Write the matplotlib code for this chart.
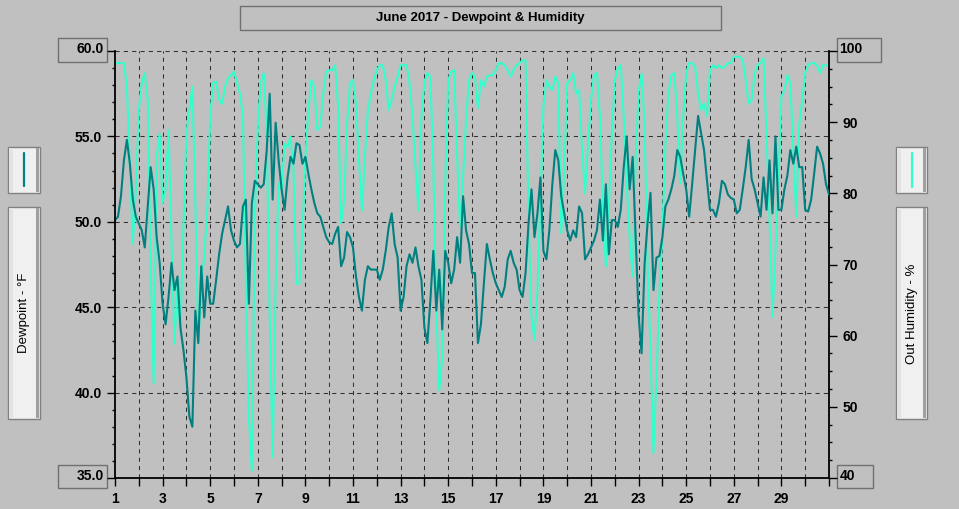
import numpy as np
import matplotlib
matplotlib.use('Agg')
import matplotlib.pyplot as plt
from matplotlib.patches import Rectangle
from matplotlib.lines import Line2D
from matplotlib.ticker import MultipleLocator

# readings every 3 hours, June 1 00:00 .. July 1 00:00
dewpoint = [
    50.1, 50.3, 51.5, 53.6, 54.8, 53.4, 51.3, 50.3,
    49.9, 49.5, 48.5, 50.9, 53.2, 51.9, 49.1, 47.6,
    45.2, 44.0, 45.6, 47.6, 46.0, 46.8, 43.8, 42.5,
    40.9, 38.6, 38.0, 44.8, 42.9, 47.4, 44.4, 46.8,
    45.2, 45.2, 46.6, 48.1, 49.3, 50.1, 50.9, 49.5,
    48.9, 48.5, 48.7, 50.9, 51.3, 45.2, 51.1, 52.4,
    52.2, 52.0, 52.2, 54.2, 57.5, 51.3, 55.8, 53.6,
    51.9, 50.7, 52.6, 53.8, 53.4, 54.6, 54.5, 53.4,
    53.8, 52.8, 51.9, 51.1, 50.5, 50.3, 49.7, 49.1,
    48.8, 48.7, 49.3, 49.7, 47.4, 47.9, 49.4, 49.1,
    48.5, 46.8, 45.6, 44.8, 46.6, 47.4, 47.2, 47.2,
    47.2, 46.6, 47.2, 48.3, 49.7, 50.5, 48.7, 47.9,
    44.8, 45.6, 47.4, 48.1, 47.6, 48.5, 47.4, 46.6,
    43.8, 42.9, 45.4, 48.3, 44.8, 47.2, 43.7, 48.3,
    47.6, 46.4, 47.2, 49.1, 47.6, 51.5, 49.5, 48.7,
    47.0, 47.0, 42.9, 44.0, 46.4, 48.7, 47.8, 47.0,
    46.4, 46.0, 45.6, 46.2, 47.8, 48.3, 47.6, 47.2,
    46.0, 45.6, 47.0, 49.9, 51.9, 49.1, 50.5, 52.6,
    48.3, 47.8, 49.5, 52.2, 54.2, 53.6, 51.5, 50.5,
    49.5, 48.9, 49.5, 49.1, 50.9, 50.5, 47.8, 48.1,
    48.5, 48.9, 49.5, 51.3, 48.9, 52.2, 48.1, 50.1,
    50.1, 49.7, 50.7, 53.2, 55.0, 51.9, 53.8, 49.1,
    44.5, 42.3, 47.5, 49.9, 51.7, 46.0, 47.9, 48.0,
    49.1, 50.9, 51.3, 51.9, 52.7, 54.2, 53.8, 52.8,
    51.9, 50.3, 52.2, 54.2, 56.2, 55.2, 54.2, 52.4,
    50.7, 50.7, 50.3, 51.1, 52.4, 52.2, 51.6, 51.4,
    51.3, 50.5, 50.7, 51.9, 53.2, 54.8, 52.5, 51.9,
    51.1, 50.3, 52.6, 50.7, 53.6, 50.5, 55.0, 50.7,
    50.7, 51.9, 52.7, 54.2, 53.4, 54.4, 53.2, 53.2,
    50.7, 50.6, 51.3, 52.8, 54.4, 54.0, 53.4, 52.2, 51.6,
]

humidity = [
    98.3, 98.3, 98.3, 98.3, 95.0, 83.7, 72.9, 80.5,
    91.7, 95.5, 96.9, 93.1, 69.7, 53.3, 85.1, 88.4,
    78.6, 80.5, 88.9, 72.9, 58.9, 67.3, 60.3, 75.3,
    88.4, 91.7, 95.0, 79.0, 58.9, 67.3, 71.1, 77.6,
    90.8, 95.5, 95.7, 93.1, 92.6, 95.0, 96.2, 96.6,
    97.1, 95.5, 94.0, 90.8, 67.3, 48.6, 41.0, 76.7,
    89.4, 95.5, 96.9, 88.4, 62.6, 42.9, 67.3, 81.4,
    80.5, 87.0, 86.5, 88.0, 83.3, 67.3, 67.3, 74.4,
    85.1, 91.7, 95.9, 95.0, 88.9, 89.4, 94.0, 97.1,
    97.3, 97.3, 98.0, 92.2, 75.8, 79.0, 89.8, 95.5,
    95.9, 92.6, 84.7, 77.6, 85.1, 91.7, 94.0, 95.9,
    97.3, 98.0, 98.0, 95.9, 91.7, 93.1, 95.0, 96.4,
    98.0, 98.0, 98.0, 95.5, 90.8, 83.7, 77.6, 90.8,
    95.5, 96.9, 96.4, 83.7, 63.6, 52.3, 57.0, 81.4,
    95.9, 97.1, 97.3, 85.1, 75.3, 82.3, 90.3, 95.9,
    96.9, 96.4, 92.0, 95.9, 95.0, 96.4, 96.6, 96.6,
    97.3, 98.3, 98.3, 98.0, 97.3, 96.4, 97.3, 98.0,
    98.3, 98.7, 98.7, 76.7, 62.6, 59.4, 66.4, 79.0,
    92.2, 95.9, 95.0, 94.5, 96.4, 95.5, 74.4, 83.3,
    95.5, 95.9, 96.9, 94.0, 94.5, 86.1, 80.0, 87.0,
    93.1, 96.6, 96.9, 90.8, 78.1, 69.7, 78.1, 88.4,
    95.9, 97.6, 98.0, 90.8, 81.4, 73.9, 68.3, 84.7,
    94.3, 96.8, 90.0, 70.0, 58.0, 43.5, 54.0, 66.0,
    74.4, 86.5, 94.0, 96.6, 96.9, 90.8, 81.4, 90.8,
    96.9, 98.3, 98.3, 97.8, 94.0, 91.7, 92.6, 90.8,
    97.3, 98.0, 97.6, 98.0, 97.6, 97.8, 98.3, 98.3,
    99.2, 99.2, 99.2, 98.7, 95.9, 92.6, 93.1, 96.9,
    98.0, 98.3, 99.0, 88.4, 76.7, 62.6, 72.0, 81.4,
    93.6, 94.5, 96.6, 95.5, 86.1, 76.7, 89.8, 93.1,
    96.9, 98.0, 98.3, 98.3, 98.0, 96.9, 98.0, 98.0, 98.0,
]

per_day = 8
days = 1 + np.arange(len(dewpoint)) / per_day

title = 'June 2017 - Dewpoint & Humidity'
left_label = 'Dewpoint - °F'
right_label = 'Out Humidity - %'
dp_ticks = [35, 40, 45, 50, 55, 60]
hum_ticks = [40, 50, 60, 70, 80, 90, 100]
day_ticks = list(range(1, 32))
day_labels = [str(d) if d % 2 == 1 and d < 31 else '' for d in day_ticks]

W, H = 959, 509
BG = '#c0c0c0'
TEAL = '#008080'
AQUA = '#33ffcc'

plt.rcParams['font.family'] = ['Liberation Sans', 'DejaVu Sans']
plt.rcParams['font.weight'] = 'bold'
plt.rcParams['font.size'] = 10

fig = plt.figure(figsize=(W / 100, H / 100), dpi=100, facecolor=BG)


def fbox(x0, y0, x1, y1):
    # pixel box (top-left origin) -> figure fraction rect
    return (x0 / W, 1 - y1 / H, (x1 - x0) / W, (y1 - y0) / H)


def frame(x0, y0, x1, y1, face='none', edge='#707070'):
    l, b, w, h = fbox(x0, y0, x1, y1)
    fig.add_artist(Rectangle((l, b), w, h, transform=fig.transFigure,
                             facecolor=face, edgecolor=edge, lw=1))


def panel(x0, y0, x1, y1):
    frame(x0, y0, x1, y1, face='#f0f0f0', edge='#808080')
    frame(x0 + 1, y0 + 1, x0 + 5, y1 - 1, face='#e3e3e3', edge='none')
    frame(x1 - 4, y0 + 1, x1 - 1, y1 - 1, face='#a0a0a0', edge='none')


ax = fig.add_axes(fbox(115, 51, 829, 478))
ax2 = ax.twinx()
ax.set_zorder(2)
ax2.set_zorder(1)
ax.patch.set_visible(False)
ax2.patch.set_visible(False)

# grid underneath both series
grid_kw = dict(colors='#303030', lw=0.75, linestyles=(0, (4, 4)))
ax2.vlines(day_ticks[1:-1], 40, 100, **grid_kw)
ax2.hlines(dp_ticks[1:], 1, 31, transform=ax.transData, **grid_kw)

ax2.plot(days, humidity, color=AQUA, lw=1.5)
ax.plot(days, dewpoint, color=TEAL, lw=1.5)

ax.set_xlim(1, 31)
ax.set_ylim(35, 60)
ax2.set_ylim(40, 100)

for a in (ax, ax2):
    for s in a.spines.values():
        s.set_linewidth(1.3)
        s.set_color('black')
    a.spines['top'].set_visible(False)
ax.spines['right'].set_visible(False)
ax2.spines['left'].set_visible(False)
ax2.spines['bottom'].set_visible(False)

ax.set_xticks(day_ticks)
ax.set_xticklabels(day_labels)
ax.tick_params(axis='x', direction='out', length=6, width=1, pad=4)

ax.set_yticks(dp_ticks)
ax.set_yticklabels([''] + [f'{v:.1f}' for v in dp_ticks[1:-1]] + [''])
ax.yaxis.set_minor_locator(MultipleLocator(1))
ax.tick_params(axis='y', which='major', direction='out', length=6, width=1, pad=3.5)
ax.tick_params(axis='y', which='minor', direction='out', length=2.3, width=1)

ax2.set_yticks(hum_ticks)
ax2.set_yticklabels([''] + [str(v) for v in hum_ticks[1:-1]] + [''])
ax2.yaxis.set_minor_locator(MultipleLocator(2.5))
ax2.tick_params(axis='y', which='major', direction='out', length=6, width=1, pad=3.5)
ax2.tick_params(axis='y', which='minor', direction='out', length=2.3, width=1)

# boxed end labels
frame(58, 38, 107, 62)
fig.text(104 / W, 1 - 49 / H, f'{dp_ticks[-1]:.1f}', ha='right', va='center')
frame(58, 465, 107, 488)
fig.text(104 / W, 1 - 476 / H, f'{dp_ticks[0]:.1f}', ha='right', va='center')
frame(837, 38, 881, 62)
fig.text(839 / W, 1 - 49 / H, str(hum_ticks[-1]), ha='left', va='center')
frame(837, 465, 873, 488)
fig.text(840 / W, 1 - 476 / H, str(hum_ticks[0]), ha='left', va='center')

# title box
frame(240, 6, 721, 30)
fig.text(480.5 / W, 1 - 18 / H, title, ha='center', va='center', fontsize=9.5)

# side legend panels
panel(8, 147, 40, 193)
fig.add_artist(Line2D([24 / W, 24 / W], [1 - 153 / H, 1 - 186 / H], color=TEAL,
                      lw=1.6, solid_capstyle='round', transform=fig.transFigure))
panel(8, 207, 40, 419)
fig.text(24 / W, 1 - 313 / H, left_label, rotation=90, ha='center', va='center',
         fontsize=9.5, fontweight='normal')

panel(896, 147, 927, 193)
fig.add_artist(Line2D([912 / W, 912 / W], [1 - 153 / H, 1 - 187 / H], color=AQUA,
                      lw=1.6, solid_capstyle='round', transform=fig.transFigure))
panel(896, 207, 927, 419)
fig.text(912 / W, 1 - 314 / H, right_label, rotation=90, ha='center', va='center',
         fontsize=9.5, fontweight='normal')

fig.savefig('out.png', dpi=100, facecolor=BG)
